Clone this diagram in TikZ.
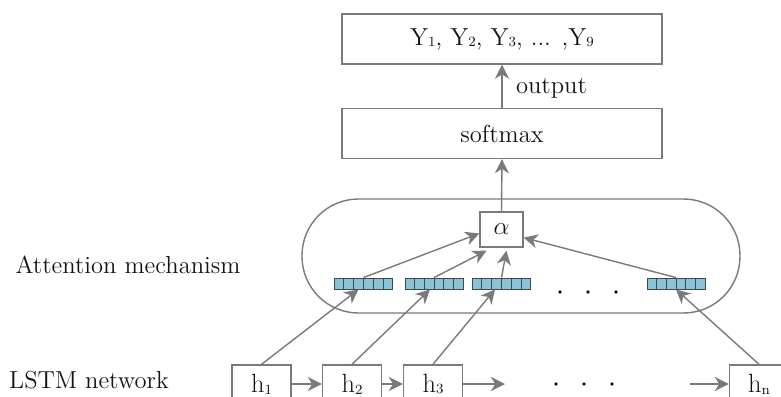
\documentclass[tikz,border=0pt]{standalone}
\usepackage{tikz}
\usetikzlibrary{arrows.meta}
\usetikzlibrary{positioning}
\usetikzlibrary{calc}

\definecolor{linegray}{HTML}{7A7A7A}
\definecolor{cellblue}{HTML}{8BC3D6}
\definecolor{celledge}{HTML}{3C4A50}
\definecolor{textdark}{HTML}{141414}

\tikzset{
	flow/.style={draw=linegray,line width=0.8pt,-{Stealth[length=8pt,width=8pt,inset=2.5pt]}},
	layerbox/.style={draw=linegray,line width=0.8pt,minimum width=6.4cm,minimum height=1cm,text=textdark,font=\fontsize{14}{16}\selectfont},
	hbox/.style={draw=linegray,line width=0.8pt,minimum width=1.18cm,minimum height=0.76cm,text=textdark,font=\fontsize{15}{17}\selectfont},
	vecbox/.style={draw=celledge,fill=cellblue,line width=0.5pt,minimum width=1.16cm,minimum height=0.22cm,inner sep=0pt},
	sidelabel/.style={text=textdark,font=\fontsize{14}{16}\selectfont},
	dotlbl/.style={circle,fill=textdark,inner sep=0pt,minimum size=2.2pt}
}

\newcommand{\sub}[1]{\raisebox{-0.15ex}{\fontsize{8}{9}\selectfont #1}}
\newcommand{\embedvec}[2]{% name, position
	\node[vecbox] (#1) at (#2) {};
	\foreach \k in {1,...,5}
		\draw[celledge,line width=0.5pt] ($(#1.south west)!\k/6!(#1.south east)$) -- ($(#1.north west)!\k/6!(#1.north east)$);
}

\begin{document}
\begin{tikzpicture}[x=0.02cm,y=-0.02cm]
	\clip (0,0) rectangle (781,396);
	% output layers
	\node[layerbox] (result) at (502,39) {Y\sub{1}, Y\sub{2}, Y\sub{3}, ... ,Y\sub{9}};
	\node[layerbox] (softmax) at (502,133.5) {softmax};
	% attention block
	\draw[linegray,line width=0.8pt,rounded corners=1.13cm] (302,199) rectangle (740,313);
	\node[draw=linegray,line width=0.8pt,minimum width=0.86cm,minimum height=0.7cm,inner sep=0pt,text=textdark,font=\fontsize{14}{16}\selectfont] (alpha) at (501.5,229.5) {$\alpha$};
	\embedvec{v1}{363.5,283.5}
	\embedvec{v2}{434,283.5}
	\embedvec{v3}{501.5,283.5}
	\embedvec{v4}{676,283.5}
	\foreach \x in {560,588,616}
		\node[dotlbl] at (\x,292) {};
	% lstm chain
	\node[hbox] (h1) at (261.5,384) {h\sub{1}};
	\node[hbox] (h2) at (352,384) {h\sub{2}};
	\node[hbox] (h3) at (433,384) {h\sub{3}};
	\node[hbox] (hn) at (759,384) {h\sub{n}};
	\coordinate (gapL) at (505,384);
	\coordinate (gapR) at (690,384);
	\foreach \x in {556,584,612}
		\node[dotlbl] at (\x,384) {};
	% side labels
	\node[sidelabel] (attlbl) at (128,265) {Attention mechanism};
	\node[sidelabel] (lstmlbl) at (89,380) {LSTM network};
	% connectors
	\draw[flow] (softmax) -- node[right,xshift=0.15cm,yshift=-0.04cm,text=textdark,font=\fontsize{14}{16}\selectfont] {output} (result);
	\draw[flow] (alpha.north) -- (softmax.south);
	\draw[flow] (v1.north) -- (alpha.190);
	\draw[flow] (v2.north) -- ([xshift=-0.3cm,yshift=-0.06cm]alpha.south);
	\draw[flow] (v3.north) -- ([xshift=0.1cm,yshift=-0.06cm]alpha.south);
	\draw[flow] (v4.north) -- (alpha.-20);
	\draw[flow] (h1.north) -- ([xshift=-0.1cm]v1.south);
	\draw[flow] (h2.north) -- ([xshift=-0.08cm]v2.south);
	\draw[flow] (h3.north) -- ([xshift=-0.13cm]v3.south);
	\draw[flow] (hn.north) -- (v4.south);
	\draw[flow] (h1) -- (h2);
	\draw[flow] (h2) -- (h3);
	\draw[flow] (h3) -- (gapL);
	\draw[flow] (gapR) -- (hn);
\end{tikzpicture}
\end{document}
